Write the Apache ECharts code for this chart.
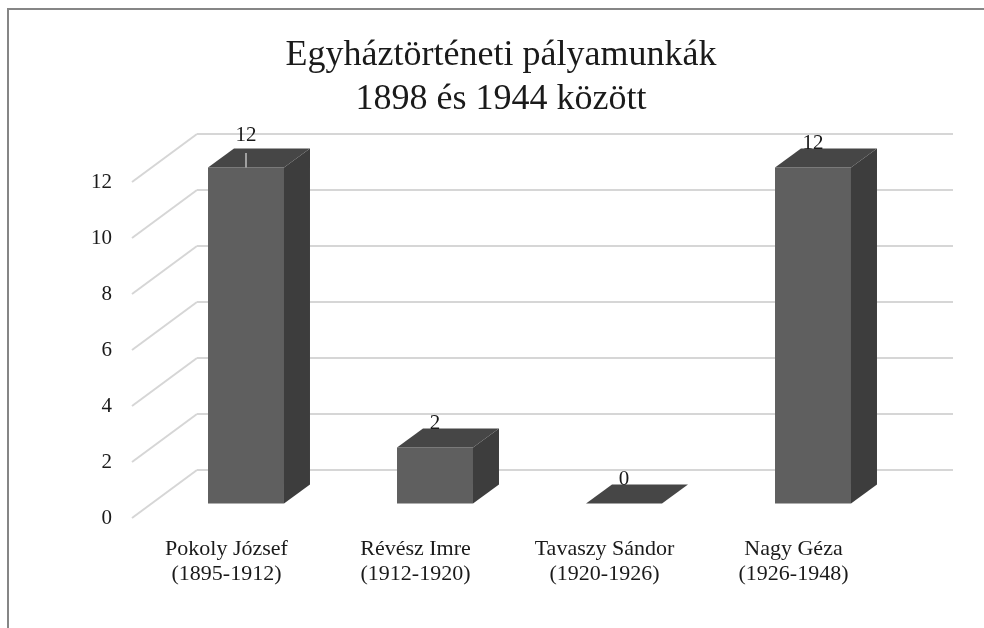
<!DOCTYPE html>
<html><head><meta charset="utf-8">
<script src="https://cdn.jsdelivr.net/npm/echarts@6/dist/echarts.min.js"></script>
<style>html,body{margin:0;padding:0;background:#fff}#c{width:984px;height:628px}</style>
</head><body><div id="c"></div>
<script>
// ---- data ----
const titleLines = ['Egyháztörténeti pályamunkák', '1898 és 1944 között'];
const categories = ['Pokoly József\n(1895-1912)', 'Révész Imre\n(1912-1920)', 'Tavaszy Sándor\n(1920-1926)', 'Nagy Géza\n(1926-1948)'];
const values = [12, 2, 0, 12];
const yTicks = [0, 2, 4, 6, 8, 10, 12];
const yMin = 0, yMax = 12, yInterval = 2;

// ---- style / layout ----
const FONT = '"Liberation Serif", "DejaVu Serif", serif';
const DEPTH_DX = 65, DEPTH_DY = -48;          // floor depth vector (front -> back wall)
const BAR_FRONT = 0.3, BAR_BACK = 0.7;         // bar depth span as fraction of floor depth
const BAR_W = 0.402;                            // bar width as fraction of category band
const FRONT = {left: 132, right: 96, top: 182, bottom: 110};
const BACK = {left: FRONT.left + DEPTH_DX, right: FRONT.right - DEPTH_DX, top: FRONT.top + DEPTH_DY, bottom: FRONT.bottom - DEPTH_DY};
const GRID_COLOR = '#d6d6d6';
const C_FRONT = '#5f5f5f', C_SIDE = '#3d3d3d', C_TOP = '#464646';
const LABEL_EXTRA_LIFT = {0: 8};                 // label moved up with a leader line

function renderSideWall(params, api) {
  const v = api.value(1);
  const p = api.coord([0, v]);
  const x0 = params.coordSys.x;
  return {
    type: 'line',
    shape: {x1: x0, y1: p[1], x2: x0 + DEPTH_DX, y2: p[1] + DEPTH_DY},
    style: {stroke: GRID_COLOR, lineWidth: 2}
  };
}

function renderBar(params, api) {
  const i = api.value(0), v = api.value(1);
  const base = api.coord([i, 0]);
  const top = api.coord([i, v]);
  const bw = api.size([1, 0])[0] * BAR_W;
  const fx = DEPTH_DX * BAR_FRONT, fy = DEPTH_DY * BAR_FRONT;
  const dx = DEPTH_DX * (BAR_BACK - BAR_FRONT), dy = DEPTH_DY * (BAR_BACK - BAR_FRONT);
  const cx = base[0] + fx;
  const x0 = cx - bw / 2, x1 = cx + bw / 2;
  const yb = base[1] + fy, yt = top[1] + fy;
  const children = [
    {type: 'polygon', shape: {points: [[x0, yt], [x1, yt], [x1, yb], [x0, yb]]}, style: {fill: C_FRONT}},
    {type: 'polygon', shape: {points: [[x1, yt], [x1 + dx, yt + dy], [x1 + dx, yb + dy], [x1, yb]]}, style: {fill: C_SIDE}},
    {type: 'polygon', shape: {points: [[x0, yt], [x1, yt], [x1 + dx, yt + dy], [x0 + dx, yt + dy]]}, style: {fill: C_TOP}}
  ];
  const lift = LABEL_EXTRA_LIFT[params.dataIndex] || 0;
  if (lift) {
    children.push({type: 'line', shape: {x1: cx, y1: yt - 14.5, x2: cx, y2: yt}, style: {stroke: '#bfbfbf', lineWidth: 1.5}});
  }
  children.push({
    type: 'text',
    style: {text: String(v), x: cx, y: yt - 24.5 - lift, align: 'center', verticalAlign: 'middle',
            font: '21px ' + FONT, fill: '#1a1a1a'}
  });
  return {type: 'group', children: children};
}

const chart = echarts.init(document.getElementById('c'), null, {renderer: 'canvas'});
chart.setOption({
  backgroundColor: '#ffffff',
  animation: false,
  graphic: [
    {
      type: 'text', x: 501, y: 34, z: 50,
      style: {text: titleLines.join('\n'), align: 'center', verticalAlign: 'top',
              font: '36px ' + FONT, lineHeight: 44, fill: '#1a1a1a'}
    },
    {
      type: 'rect', shape: {x: 8, y: 9, width: 1100, height: 800},
      style: {fill: 'none', stroke: '#868686', lineWidth: 2}, z: 100
    }
  ],
  grid: [
    Object.assign({containLabel: false}, BACK),
    Object.assign({containLabel: false}, FRONT)
  ],
  xAxis: [
    {gridIndex: 0, type: 'category', data: categories, show: false},
    {gridIndex: 1, type: 'category', data: categories,
     axisLine: {show: false}, axisTick: {show: false}, splitLine: {show: false},
     axisLabel: {interval: 0, margin: 19, fontFamily: FONT, fontSize: 22, lineHeight: 25, color: '#1a1a1a'}}
  ],
  yAxis: [
    {gridIndex: 0, type: 'value', min: yMin, max: yMax, interval: yInterval,
     axisLine: {show: false}, axisTick: {show: false}, axisLabel: {show: false},
     splitLine: {show: true, lineStyle: {color: GRID_COLOR, width: 2}}},
    {gridIndex: 1, type: 'value', min: yMin, max: yMax, interval: yInterval,
     axisLine: {show: false}, axisTick: {show: false}, splitLine: {show: false},
     axisLabel: {margin: 20, fontFamily: FONT, fontSize: 21, color: '#1a1a1a'}}
  ],
  series: [
    {type: 'custom', xAxisIndex: 1, yAxisIndex: 1, renderItem: renderSideWall,
     data: yTicks.map(t => [0, t]), silent: true, z: 1},
    {type: 'custom', xAxisIndex: 1, yAxisIndex: 1, renderItem: renderBar,
     data: values.map((v, i) => [i, v]), z: 5}
  ]
});
</script>
</body></html>
